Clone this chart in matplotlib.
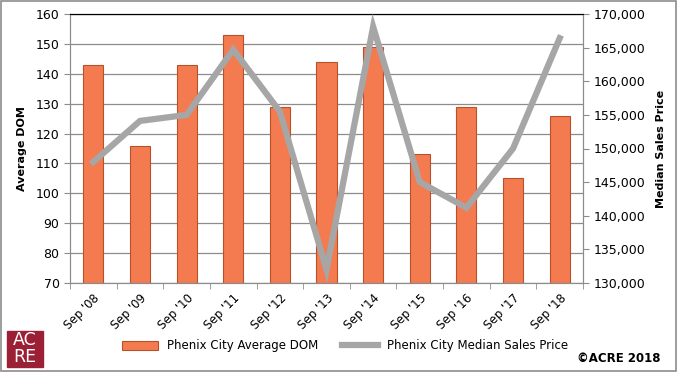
import matplotlib.pyplot as plt
import numpy as np
from matplotlib.patches import Rectangle

labels = ["Sep '08", "Sep '09", "Sep '10", "Sep '11", "Sep '12", "Sep '13",
          "Sep '14", "Sep '15", "Sep '16", "Sep '17", "Sep '18"]
avg_dom = [143, 116, 143, 153, 129, 144, 149, 113, 129, 105, 126]
median_price = [148000, 154100, 155000, 164700, 155500, 132000,
                168100, 145000, 141200, 150000, 166400]

fig = plt.figure(figsize=(6.77, 3.72), dpi=100)
ax = fig.add_axes([70 / 677, 1 - 283 / 372, 513 / 677, 269 / 372])
x = np.arange(len(labels))

ax.bar(x, avg_dom, width=0.43, color='#F47B50', edgecolor='#B8502A',
       linewidth=0.8, zorder=2, label='Phenix City Average DOM')
ax.set_ylim(70, 160)
ax.set_yticks(range(70, 161, 10))
ax.set_xlim(-0.5, len(labels) - 0.5)
ax.yaxis.grid(True, color='#8C8C8C', linewidth=0.9, zorder=0)
ax.set_axisbelow(True)
ax.set_xticks(x)
ax.set_xticklabels(labels, rotation=45, ha='right', rotation_mode='anchor', fontsize=8.5)
ax.tick_params(axis='x', length=0, pad=6)
ax.set_xticks(np.arange(-0.5, len(labels)), minor=True)
ax.tick_params(axis='x', which='minor', length=4, color='#8C8C8C')
ax.tick_params(axis='y', labelsize=9, length=4, color='#8C8C8C')
ax.set_ylabel('Average DOM', fontsize=8, fontweight='bold', labelpad=6)
for s in ['left', 'right', 'bottom']:
    ax.spines[s].set_color('#8C8C8C')
ax.spines['top'].set_color('black')

ax2 = ax.twinx()
ax2.plot(x, median_price, color='#A6A6A6', linewidth=4.5, zorder=3,
         solid_joinstyle='miter', label='Phenix City Median Sales Price')
ax2.set_ylim(130000, 170000)
ax2.set_yticks(range(130000, 170001, 5000))
ax2.set_yticklabels([f'{v:,}' for v in range(130000, 170001, 5000)])
ax2.tick_params(axis='y', labelsize=9, length=4, color='#8C8C8C')
ax2.set_ylabel('Median Sales Price', fontsize=8, fontweight='bold', labelpad=8)
for s in ['left', 'right', 'bottom']:
    ax2.spines[s].set_color('#8C8C8C')
ax2.spines['top'].set_color('black')

h1, l1 = ax.get_legend_handles_labels()
h2, l2 = ax2.get_legend_handles_labels()
fig.legend(h1 + h2, l1 + l2, loc='center', bbox_to_anchor=(0.51, 1 - 346 / 372),
           ncol=2, frameon=False, fontsize=8.5, handlelength=3, columnspacing=2.0)

# logo
fig.patches.append(Rectangle((7 / 677, 1 - 367 / 372), 36 / 677, 36 / 372,
                             transform=fig.transFigure, color='#9B1F35'))
fig.text(25 / 677, 1 - 340 / 372, 'AC', color='white', fontsize=12.5,
         ha='center', va='center')
fig.text(25 / 677, 1 - 357 / 372, 'RE', color='white', fontsize=12.5,
         ha='center', va='center')
fig.text(0.975, 1 - 358 / 372, '\u00a9ACRE 2018', fontsize=8.5, fontweight='bold',
         ha='right', va='center')

fig.patches.append(Rectangle((0.001, 0.002), 0.997, 0.995, transform=fig.transFigure,
                             fill=False, edgecolor='#8C8C8C', linewidth=1.2))

fig.savefig('out.png', dpi=100)
